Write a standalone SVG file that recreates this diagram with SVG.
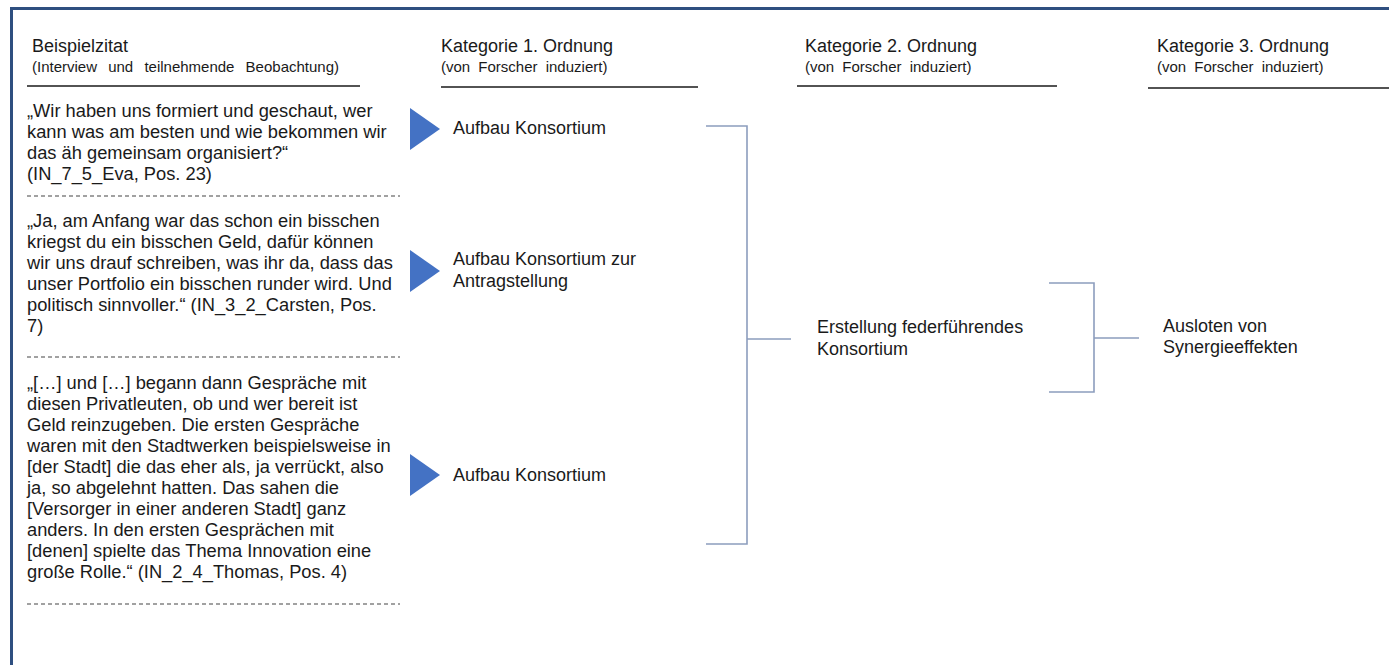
<svg xmlns="http://www.w3.org/2000/svg" width="1389" height="665" viewBox="0 0 1389 665">
  <style>
    text { font-family: "Liberation Sans", Arial, sans-serif; fill: #1a1a1a; }
    .head { font-size: 18px; }
    .sub { font-size: 15px; word-spacing: 4px; }
    .quote { font-size: 18.3px; }
    .label { font-size: 18px; }
    .rule { stroke: #1a1a1a; stroke-width: 1.3; }
    .dash { stroke: #444; stroke-width: 1.2; stroke-dasharray: 4 3; }
    .tri { fill: #4472C4; }
    .brace { fill: none; stroke: #8c9dbd; stroke-width: 1.6; }
  </style>

  <!-- frame -->
  <rect x="0" y="0" width="1389" height="665" fill="#ffffff"/>
  <path d="M11.5 665 V8.5 H1389" fill="none" stroke="#2f4f80" stroke-width="3"/>

  <!-- column headers -->
  <g id="header-quote">
    <text class="head" x="32" y="52">Beispielzitat</text>
    <text class="sub" x="32" y="72" style="word-spacing:7px">(Interview und teilnehmende Beobachtung)</text>
    <line class="rule" x1="27" y1="86" x2="360" y2="86"/>
  </g>
  <g id="header-cat1">
    <text class="head" x="441" y="52">Kategorie 1. Ordnung</text>
    <text class="sub" x="441" y="72">(von Forscher induziert)</text>
    <line class="rule" x1="441" y1="87" x2="698" y2="87"/>
  </g>
  <g id="header-cat2">
    <text class="head" x="805" y="52">Kategorie 2. Ordnung</text>
    <text class="sub" x="805" y="72">(von Forscher induziert)</text>
    <line class="rule" x1="797" y1="86" x2="1057" y2="86"/>
  </g>
  <g id="header-cat3">
    <text class="head" x="1157" y="52">Kategorie 3. Ordnung</text>
    <text class="sub" x="1157" y="72">(von Forscher induziert)</text>
    <line class="rule" x1="1148" y1="88" x2="1389" y2="88"/>
  </g>

  <!-- quotes -->
  <g id="quote-1">
    <text class="quote" x="27" y="117">„Wir haben uns formiert und geschaut, wer</text>
    <text class="quote" x="27" y="138">kann was am besten und wie bekommen wir</text>
    <text class="quote" x="27" y="159">das äh gemeinsam organisiert?“</text>
    <text class="quote" x="27" y="180">(IN_7_5_Eva,  Pos. 23)</text>
    <line class="dash" x1="27" y1="196" x2="400" y2="196"/>
  </g>
  <g id="quote-2">
    <text class="quote" x="27" y="227">„Ja, am Anfang war das schon ein bisschen</text>
    <text class="quote" x="27" y="248">kriegst du ein bisschen Geld, dafür können</text>
    <text class="quote" x="27" y="269">wir uns drauf schreiben, was ihr da, dass das</text>
    <text class="quote" x="27" y="290">unser Portfolio ein bisschen runder wird. Und</text>
    <text class="quote" x="27" y="311">politisch sinnvoller.“ (IN_3_2_Carsten,  Pos.</text>
    <text class="quote" x="27" y="332">7)</text>
    <line class="dash" x1="27" y1="357" x2="400" y2="357"/>
  </g>
  <g id="quote-3">
    <text class="quote" x="27" y="389">„[…] und […] begann dann Gespräche mit</text>
    <text class="quote" x="27" y="410">diesen Privatleuten,  ob und wer bereit ist</text>
    <text class="quote" x="27" y="431">Geld reinzugeben. Die ersten Gespräche</text>
    <text class="quote" x="27" y="452">waren mit den Stadtwerken beispielsweise in</text>
    <text class="quote" x="27" y="473">[der Stadt] die das eher als, ja verrückt, also</text>
    <text class="quote" x="27" y="494">ja, so abgelehnt hatten. Das sahen die</text>
    <text class="quote" x="27" y="515">[Versorger in einer anderen Stadt] ganz</text>
    <text class="quote" x="27" y="536">anders. In den ersten Gesprächen mit</text>
    <text class="quote" x="27" y="557">[denen] spielte das Thema Innovation eine</text>
    <text class="quote" x="27" y="578">große Rolle.“ (IN_2_4_Thomas, Pos. 4)</text>
    <line class="dash" x1="27" y1="604" x2="400" y2="604"/>
  </g>

  <!-- first-order categories -->
  <g id="cat1-a">
    <polygon class="tri" points="410,108 440,129 410,150"/>
    <text class="label" x="453" y="134">Aufbau Konsortium</text>
  </g>
  <g id="cat1-b">
    <polygon class="tri" points="410,250 440,271 410,292"/>
    <text class="label" x="453" y="265">Aufbau Konsortium zur</text>
    <text class="label" x="453" y="287">Antragstellung</text>
  </g>
  <g id="cat1-c">
    <polygon class="tri" points="410,454 440,475 410,496"/>
    <text class="label" x="453" y="481">Aufbau Konsortium</text>
  </g>

  <!-- second and third order categories -->
  <g id="cat2">
    <text class="label" x="817" y="333">Erstellung federführendes</text>
    <text class="label" x="817" y="355">Konsortium</text>
  </g>
  <g id="cat3">
    <text class="label" x="1163" y="332">Ausloten von</text>
    <text class="label" x="1163" y="353">Synergieeffekten</text>
  </g>

  <!-- grouping brackets -->
  <g id="connectors">
    <path class="brace" d="M706 126 H747 V544 H706 M747 339 H791"/>
    <path class="brace" d="M1049 283 H1094 V392 H1049 M1094 338 H1139"/>
  </g>
</svg>
